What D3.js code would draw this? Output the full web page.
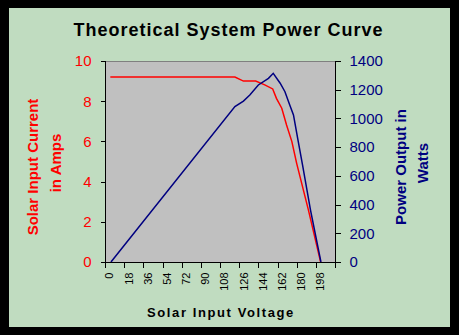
<!DOCTYPE html>
<html><head><meta charset="utf-8">
<script src="https://cdn.jsdelivr.net/npm/d3@7"></script>
<style>
html,body{margin:0;padding:0;background:#000;}
svg{display:block;}
text{font-family:Arial,"Liberation Sans",sans-serif;}
</style></head>
<body>
<svg id="chart" width="459" height="335"></svg>
<script>
// ---- data ----
const title = "Theoretical System Power Curve";
const xTickLabels = [0,18,36,54,72,90,108,126,144,162,180,198];
const leftTicks = [0,2,4,6,8,10];
const rightTicks = [0,200,400,600,800,1000,1200,1400];
const currentVolts = [5,122,130,141.5,150,157.5,161,166,170.5,175.5,180,191,202.5];
const currentAmps  = [9.2,9.2,9.0,9.0,8.81,8.61,8.14,7.65,6.82,5.99,4.91,2.59,0];
const powerVolts = [5.6,122,130,136,144,153.5,158,164.5,169,173.5,177,181.5,185.5,193,202.8];
const powerWatts = [0,1082,1121,1163,1233,1279,1314,1245,1186,1094,1024,838,676,362,0];

const svg = d3.select("#chart");
// background panel
svg.append("rect").attr("x",9).attr("y",8).attr("width",441).attr("height",319).attr("fill","#c0dcc0");

const L=105, R=335, T=61, B=262;
const x = d3.scaleLinear().domain([0,216]).range([L,R]);
const yL = d3.scaleLinear().domain([0,10]).range([B,T]);
const yR = d3.scaleLinear().domain([0,1400]).range([B,T]);

svg.append("rect").attr("x",L).attr("y",T).attr("width",R-L).attr("height",B-T).attr("fill","#c0c0c0");
svg.append("line").attr("x1",L).attr("x2",R).attr("y1",T+0.5).attr("y2",T+0.5).attr("stroke","#808080");

// lines
const lineC = d3.line().x((d,i)=>x(currentVolts[i])).y(d=>yL(d));
const lineP = d3.line().x((d,i)=>x(powerVolts[i])).y(d=>yR(d));
svg.append("path").attr("d",lineC(currentAmps)).attr("fill","none").attr("stroke","#ff0000").attr("stroke-width",1.5);
svg.append("path").attr("d",lineP(powerWatts)).attr("fill","none").attr("stroke","#000080").attr("stroke-width",1.5);

// axes
const fontAxis = 15;
const gL = svg.append("g").attr("transform",`translate(${L+0.5},0)`)
  .call(d3.axisLeft(yL).tickValues(leftTicks).tickSize(5).tickPadding(9).tickFormat(d3.format("d")));
gL.selectAll("text").attr("fill","#ff0000").style("font-size",fontAxis+"px");
const gR = svg.append("g").attr("transform",`translate(${R+0.5},0)`)
  .call(d3.axisRight(yR).tickValues(rightTicks).tickSize(5).tickPadding(9).tickFormat(d3.format("d")));
gR.selectAll("text").attr("fill","#000080").style("font-size",fontAxis+"px");
const gB = svg.append("g").attr("transform",`translate(0,${B+0.5})`)
  .call(d3.axisBottom(x).tickValues(d3.range(0,217,18)).tickSize(5).tickFormat(d=>xTickLabels.includes(d)?d:""));
gB.selectAll("text").style("font-size","11px").attr("fill","#000")
  .attr("text-anchor","end").attr("transform","rotate(-90)")
  .attr("x",-10).attr("y",0).attr("dy","0.35em")
  .attr("dx",0);
gB.selectAll(".tick text").attr("transform",function(){return "translate(4,0) rotate(-90)";});
[gL,gR,gB].forEach(g=>{g.selectAll("path,line").attr("stroke","#000").attr("shape-rendering","crispEdges");g.attr("font-family",null);});
gL.select("path.domain").attr("d",`M-5,${T+0.5}H0V${B}`);
gR.select("path.domain").attr("d",`M5,${T+0.5}H0V${B}`);
gB.select("path.domain").attr("d",`M${L},0H${R+1}`);

// titles
svg.append("text").attr("x",228.5).attr("y",36).attr("text-anchor","middle")
  .style("font-size","18px").style("font-weight","bold").style("letter-spacing","1px").text(title);
svg.append("text").attr("x",221).attr("y",317).attr("text-anchor","middle")
  .style("font-size","13px").style("font-weight","bold").style("letter-spacing","1.6px").text("Solar Input Voltage");
const lt = svg.append("text").attr("transform","rotate(-90)").attr("text-anchor","middle")
  .style("font-size","15px").style("font-weight","bold").attr("fill","#ff0000");
lt.append("tspan").attr("x",-167).attr("y",38).text("Solar Input Current");
lt.append("tspan").attr("x",-163).attr("y",61).text("in Amps");
const rt = svg.append("text").attr("transform","rotate(-90)").attr("text-anchor","middle")
  .style("font-size","15px").style("font-weight","bold").attr("fill","#000080");
rt.append("tspan").attr("x",-167).attr("y",406).text("Power Output in");
rt.append("tspan").attr("x",-163).attr("y",428).text("Watts");
</script>
</body></html>
